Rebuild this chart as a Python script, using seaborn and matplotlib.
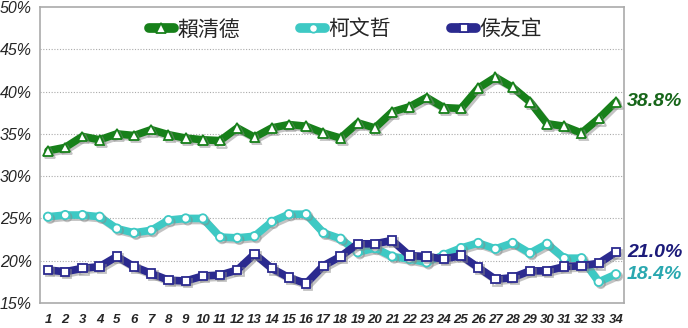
import matplotlib
matplotlib.use("Agg")
import matplotlib.pyplot as plt
import matplotlib.patheffects as pe
import seaborn as sns
import pandas as pd

polls = list(range(1, 35))
lai = [33.0, 33.4, 34.7, 34.3, 35.0, 34.8, 35.5, 34.9, 34.5, 34.3, 34.2, 35.7, 34.6, 35.7, 36.1, 35.9, 35.1,
       34.5, 36.3, 35.7, 37.6, 38.2, 39.3, 38.1, 38.0, 40.4, 41.7, 40.5, 38.8, 36.2, 35.9, 35.1, 36.8, 38.8]
ko = [25.2, 25.4, 25.4, 25.2, 23.8, 23.3, 23.6, 24.8, 25.0, 25.0, 22.8, 22.7, 22.9, 24.6, 25.5, 25.5, 23.3,
      22.6, 21.0, 21.5, 20.5, 20.2, 19.8, 20.7, 21.5, 22.1, 21.4, 22.1, 20.9, 22.0, 20.3, 20.3, 17.5, 18.4]
hou = [18.9, 18.7, 19.1, 19.3, 20.5, 19.3, 18.5, 17.7, 17.6, 18.2, 18.3, 18.9, 20.8, 19.1, 18.0, 17.3, 19.4,
       20.5, 22.0, 22.0, 22.4, 20.6, 20.5, 20.2, 20.6, 19.2, 17.8, 18.0, 18.8, 18.8, 19.3, 19.4, 19.7, 21.0]
names = ["賴清德", "柯文哲", "侯友宜"]
y_ticks = [15, 20, 25, 30, 35, 40, 45, 50]

colors = ["#17801a", "#3ec9c4", "#2b2a8f"]
label_colors = ["#17661a", "#2aa8b0", "#1c1b7a"]
markers = ["^", "o", "s"]

sns.set_theme(style="white")
plt.rcParams["font.family"] = ["Noto Sans CJK TC", "DejaVu Sans"]

fig = plt.figure(figsize=(6.88, 3.28), dpi=100)
ax = fig.add_axes([40 / 688, 25 / 328, 584 / 688, 296 / 328])

series = [lai, ko, hou]
shadow = [pe.SimpleLineShadow(offset=(1.5, -1.5), shadow_color="#888888", alpha=0.5), pe.Normal()]
for name, vals, c, m in zip(names, series, colors, markers):
    df = pd.DataFrame({"poll": polls, "value": vals})
    sns.lineplot(data=df, x="poll", y="value", ax=ax, color=c, linewidth=5.5,
                 marker=m, markersize=6 if m != "^" else 7, markerfacecolor="white",
                 markeredgecolor=c, markeredgewidth=1.3, label=name,
                 path_effects=shadow, zorder=3)

ax.set_xlim(0.535, 34.47)
ax.set_ylim(15, 50)
ax.set_yticks(y_ticks)
ax.set_yticklabels([f"{v}%" for v in y_ticks], fontsize=11.5, fontstyle="italic",
                   family=["Liberation Sans", "DejaVu Sans"])
ax.set_xticks(polls)
ax.set_xticklabels([str(p) for p in polls], fontsize=9.5, fontstyle="italic", fontweight="bold",
                   family=["Liberation Sans", "DejaVu Sans"])
ax.set_xlabel("")
ax.set_ylabel("")
ax.tick_params(axis="x", which="major", direction="out", length=4, width=0.8, color="#888888", pad=4)
ax.tick_params(axis="y", length=0, pad=0)
for lab in ax.get_yticklabels():
    lab.set_horizontalalignment("left")
    lab.set_x(-40 / 584)
for t in y_ticks[1:-1]:
    ax.axhline(t, color="#aaaaaa", linestyle=(0, (1, 1.5)), linewidth=0.8, zorder=1)
for s in ax.spines.values():
    s.set_color("#aaaaaa")
    s.set_linewidth(1.2)

ends = [(lai[-1], "38.8%", 0), (hou[-1], "21.0%", 2), (ko[-1], "18.4%", 1)]
for v, txt, i in ends:
    ax.annotate(txt, xy=(34, v), xytext=(8, 0), textcoords="offset points",
                va="center", ha="left", fontsize=14, fontstyle="italic", fontweight="bold",
                color=label_colors[i], family=["Liberation Sans", "DejaVu Sans"], annotation_clip=False)

leg = ax.legend(loc="upper center", bbox_to_anchor=(0.523, 1.025), ncol=3, frameon=False,
                fontsize=15, handlelength=1.2, columnspacing=2.9, handletextpad=0.15)
for h in leg.legend_handles:
    h.set_path_effects([])
    h.set_linewidth(7)

fig.savefig("out.png", dpi=100)
